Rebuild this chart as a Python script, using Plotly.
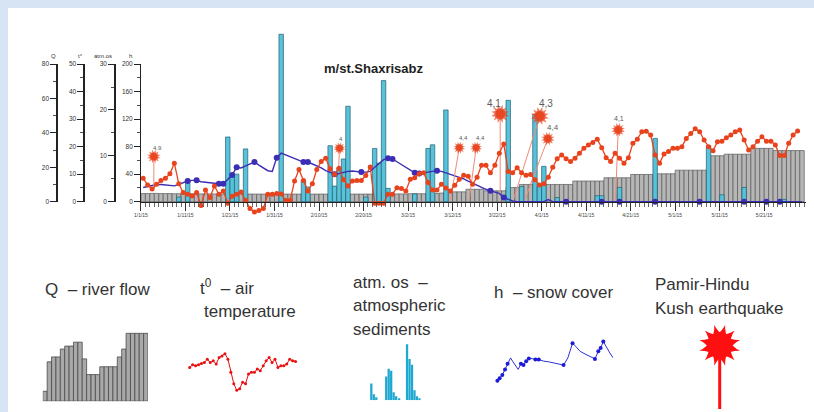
import plotly.graph_objects as go

# The page body keeps its default 8 px margin, so the figure is drawn 8 px in
# from the top-left corner; positions below are given in window pixels.
OFF = 8
W, H = 814 - OFF, 412 - OFF
FONT = "Liberation Sans, Arial, sans-serif"


def fx(px):
    return (px - OFF) / W


def fy(py):
    return 1 - (py - OFF) / H


# ---------------- data (main chart, daily from 1 Jan 2015) ----------------
tick_days = [0, 10, 20, 30, 40, 50, 60, 70, 80, 90, 100, 110, 120, 130, 140]
tick_labels = ["1/1/15", "1/11/15", "1/21/15", "1/31/15", "2/10/15", "2/20/15",
               "3/2/15", "3/12/15", "3/22/15", "4/1/15", "4/11/15", "4/21/15",
               "5/1/15", "5/11/15", "5/21/15"]

river_flow = [
    4.7, 4.7, 4.8, 4.8, 4.7, 4.7, 4.7, 4.6, 4.6, 4.6,
    4.6, 4.6, 4.5, 4.5, 4.5, 4.5, 4.5, 4.5, 4.5, 4.5,
    4.5, 4.5, 4.5, 4.5, 4.4, 4.4, 4.4, 4.4, 4.4, 4.4,
    4.4, 4.4, 4.4, 4.4, 4.4, 4.4, 4.4, 4.4, 4.4, 4.4,
    4.4, 4.4, 4.4, 4.4, 4.4, 4.4, 4.4, 4.4, 4.4, 4.4,
    4.4, 4.4, 4.4, 4.4, 4.5, 4.5, 4.5, 4.5, 4.5, 4.5,
    4.6, 4.6, 4.6, 4.6, 4.8, 4.8, 4.8, 5.0, 5.2, 5.2,
    5.7, 5.7, 5.7, 7.2, 7.2, 7.2, 7.2, 6.3, 6.3, 6.3,
    6.3, 6.3, 8.2, 8.2, 8.2, 10, 10, 10, 10, 10,
    10, 10, 10, 10, 10, 10, 10, 12, 12, 12,
    12, 12, 12, 12, 13.9, 13.9, 13.9, 13.9, 13.9, 13.9,
    15.8, 15.8, 15.8, 15.8, 15.8, 15.8, 16.2, 16.2, 16.2, 16.2,
    18.3, 18.3, 18.3, 18.3, 18.3, 18.3, 18.3, 18.3, 26.7, 26.7,
    26.7, 27.6, 27.6, 27.6, 27.6, 27.6, 27.6, 31, 31, 31,
    31, 31, 29.7, 29.7, 29.7, 29.7, 29.7, 29.7, 29.7,
]

air_temp = [
    8.5, 6.1, 4.6, 6.3, 7.7, 8.5, 10.1, 14, 6.5, 3.3,
    2.7, 2.1, 3.3, -1.4, 4.2, 1.5, 5.7, 2.7, 3.9, -0.6,
    2, 2.7, 3.5, 0.5, -2.5, -3.8, -3.2, -2.5, 2.7, 2.7,
    3, 2.8, 0.4, 0.4, 7.5, 11.7, 7.7, 3.9, 6.5, 11.7,
    14.6, 15.8, 12, 9.9, 12.1, 8, 5.7, 7.5, 7.7, 7.7,
    9.5, 12.6, -0.6, -0.6, -0.6, 2.7, 2.7, 5.1, 4.8, 3.9,
    8.1, 8.7, 10.1, 10.5, 7, 4.2, 4.2, 6.3, 5, 3.9,
    6, 8.1, 9.6, 9.2, 6.3, 8.9, 13.2, 13.2, 10.5, 13.2,
    17.6, 21, 11, 10.5, 12.3, 10.5, 9.6, 9.9, 8, 6.1,
    6.5, 8.9, 12.5, 15.6, 17, 15.6, 14.6, 15.8, 17.6, 19.4,
    20.6, 21.5, 22.7, 19.6, 16, 14.6, 17.6, 15.8, 14, 16,
    21.2, 22.7, 25.4, 25.6, 24.2, 17, 14, 17.3, 18.2, 19.4,
    19.4, 20, 23, 24.8, 26.5, 25.4, 22.4, 20, 18.5, 21.8,
    22, 23.2, 24.2, 25.4, 26, 22.4, 18.8, 20, 22, 23.6,
    22, 22, 20.6, 16.8, 16.8, 21.2, 24.2, 25.7, None,
]

atm_by_day = {
    8: 1, 10: 4.3, 19: 14.1, 20: 5.6, 21: 6, 23: 11.5, 31: 36.5, 36: 4.7, 37: 3.2,
    42: 12.2, 43: 3.4, 44: 7.4, 45: 9.3, 46: 20.8, 50: 1, 52: 11.6, 53: 8.4,
    54: 26.4, 55: 2.9, 61: 1.7, 64: 11.6, 65: 12.4, 68: 20, 82: 22.1, 85: 3.3,
    88: 19, 89: 3.4, 90: 7.7, 93: 0.9, 102: 1.3, 103: 1.3, 107: 3.1, 115: 13.8,
    127: 12.2, 130: 1.5, 135: 3.1, 144: 0.5,
}
atm_sediments = [atm_by_day.get(d) for d in range(len(river_flow))]

snow_cover = [
    20.5, 22, 24, 25, 25, 24, 23, 23, 25, 28,
    30, 31, 31, 29, 28, 27, 26.5, 26, 26, 32,
    38.6, 50, 49, 52, 55, 57.6, 53, 49, 45, 44,
    64, 70.5, 68, 65, 62, 60, 57.6, 57.6, 55, 52,
    49, 45, 42, 40, 41, 43, 44, 44.5, 43.5, 43,
    43, 44, 50, 56, 61, 63, 62, 58, 54, 49,
    45, 42, 41, 41.5, 43, 44, 45, 44, 42, 40,
    38, 36, 33, 30, 27, 23, 20, 18, 15.7, 14,
    12, 6, 3, 1, 0, 0, 0, 0, 0, 0,
    0, 3, 0, 0, 0, 0, 0, 0, 0, 0,
    0, 0, 0, 0, 0, 0, 0, 0, 0, 0,
    0, 0, 0, 0, 0, 0, 0, 0, 0, 0,
    0, 0, 0, 0, 0, 0, 0, 0, 0, 0,
    0, 0, 0, 0, 0, 0, 0, 0, 0, 0,
    0, 0, 0, 0, 0, 0, 0, 0, 0,
]
snow_obs_days = [10, 12, 17, 18, 20, 21, 25, 30, 36, 37, 43, 49, 55, 56, 61, 62,
                 66, 78, 81, 95, 103, 107, 115, 125, 135, 140, 143]

# Pamir-Hindu Kush earthquakes (magnitude label, position in days, level in deg C)
quake_mag = ["4.9", "4", "4,4", "4,4", "4,1", "4,3", "4,4", "4,1"]
quake_day = [2.9, 44.6, 71.5, 75.3, 80.7, 89.6, 91.4, 107.2]
quake_level = [16.4, 19.4, 19.6, 19.6, 31.9, 31.1, 22.9, 26.1]
quake_base_day = [2.9, 44.4, 69.5, 73.7, 80.7, 83.8, 86.3, 106.6]
quake_base_level = [4.6, 12.1, 0.4, 0.4, 3.9, 1.4, 1.1, 0.4]

# ---------------- data (legend glyphs) ----------------
glyph_flow = [10, 40, 45, 45, 53, 56, 56, 60, 60, 43, 27, 27, 27, 35, 35, 35,
              35, 45, 53, 69, 69, 69, 69, 69]
glyph_temp = [33.3, 36, 35, 36, 37.3, 38.3, 41.7, 38.3, 40, 36.7, 43.3, 45, 47.3,
              41.7, 28.3, 16.7, 10, 11.7, 18.3, 16.7, 26.7, 28.3, 28.3, 31.7, 30,
              35, 40, 43.3, 38.3, 41.7, 33.3, 35, 35, 36.7, 41.7, 40, 39.3]
glyph_atm_pos = [2, 4.5, 7, 17, 19.5, 22, 24.5, 27, 30, 38, 40.5, 43, 45.5, 48, 50.5]
glyph_atm = [17, 6, 3, 24, 32, 30, 8, 4, 2, 57, 42, 36, 10, 4, 2]
glyph_snow_t = [0, 2.3, 5, 7.7, 10.3, 13.3, 15.7, 18.3, 21, 23.7, 26.3, 29, 31.7,
                35, 38.3, 41.7, 46.7, 51.7, 58.3, 66.7, 71, 75.7, 79, 83.3, 88.3,
                93.3, 98.3, 101.7, 104, 106.7, 110, 113.3, 116.7]
glyph_snow_h = [6.7, 9.3, 12.7, 18.3, 24, 30, 26, 22.7, 18.3, 24, 22.7, 26.7, 29.3,
                29.3, 28.3, 28.3, 26.7, 26, 24.7, 22.7, 30, 45, 41.7, 36.7, 34,
                31.7, 29, 36.7, 40, 46.7, 40, 35, 30]
glyph_snow_marks = [0, 1, 2, 3, 4, 9, 10, 11, 12, 14, 15, 19, 21, 26, 27, 28, 29]
glyph_quake_level = 0.79

# ---------------- figure ----------------
RED = "#e8431c"
BLUE = "#3b2db4"
CYAN = "#58c2da"
GRAY = "#b6b6b6"

days = [d + 0.5 for d in range(len(river_flow))]

fig = go.Figure()

fig.add_trace(go.Bar(x=days, y=river_flow, width=1, xaxis="x", yaxis="y",
                     marker=dict(color=GRAY, line=dict(color="#5a5a5a", width=0.7)),
                     hoverinfo="skip"))
fig.add_trace(go.Bar(x=days, y=atm_sediments, width=1, xaxis="x", yaxis="y2",
                     marker=dict(color=CYAN, line=dict(color="#24606f", width=0.7)),
                     hoverinfo="skip"))
fig.add_trace(go.Scatter(x=days, y=snow_cover, mode="lines", xaxis="x", yaxis="y3",
                         line=dict(color=BLUE, width=1.4), hoverinfo="skip"))
fig.add_trace(go.Scatter(x=[days[d] for d in snow_obs_days],
                         y=[snow_cover[d] for d in snow_obs_days],
                         mode="markers", xaxis="x", yaxis="y3", cliponaxis=False,
                         marker=dict(color=BLUE, size=6), hoverinfo="skip"))
# earthquake stems
for i in range(len(quake_mag)):
    fig.add_trace(go.Scatter(x=[quake_base_day[i], quake_day[i]],
                             y=[quake_base_level[i], quake_level[i]],
                             mode="lines", xaxis="x", yaxis="y4",
                             line=dict(color="#ef8a78", width=1), hoverinfo="skip"))
fig.add_trace(go.Scatter(x=days, y=air_temp, mode="lines+markers", xaxis="x", yaxis="y4",
                         cliponaxis=False,
                         line=dict(color=RED, width=1.3),
                         marker=dict(color=RED, size=5), hoverinfo="skip"))
quake_size = [9, 8, 8, 8, 12, 12, 9, 9]
for ang in (0, 30, 60):
    fig.add_trace(go.Scatter(x=quake_day, y=quake_level, mode="markers", xaxis="x", yaxis="y4",
                             cliponaxis=False,
                             marker=dict(symbol="star-square", size=quake_size, color=RED,
                                         angle=ang, line=dict(width=0)),
                             hoverinfo="skip"))

# dummy traces so the scale axes get drawn
for ya in ("y5", "y6", "y7", "y8"):
    fig.add_trace(go.Scatter(x=[None], y=[None], xaxis="x", yaxis=ya, hoverinfo="skip"))

# legend glyphs
fig.add_trace(go.Bar(x=list(range(len(glyph_flow))), y=glyph_flow, width=1, xaxis="x2", yaxis="y9",
                     marker=dict(color="#a9a9a9", line=dict(color="#4a4a4a", width=0.8)),
                     hoverinfo="skip"))
fig.add_trace(go.Scatter(x=list(range(len(glyph_temp))), y=glyph_temp, mode="lines+markers",
                         xaxis="x3", yaxis="y10", cliponaxis=False,
                         line=dict(color="#e81010", width=1),
                         marker=dict(color="#e81010", size=3), hoverinfo="skip"))
fig.add_trace(go.Bar(x=glyph_atm_pos, y=glyph_atm, width=2.3, xaxis="x4", yaxis="y11",
                     marker=dict(color="#1fa9d0", line=dict(width=0)), hoverinfo="skip"))
fig.add_trace(go.Scatter(x=glyph_snow_t, y=glyph_snow_h, mode="lines", xaxis="x5", yaxis="y12",
                         cliponaxis=False, line=dict(color="#3030d8", width=1), hoverinfo="skip"))
fig.add_trace(go.Scatter(x=[glyph_snow_t[i] for i in glyph_snow_marks],
                         y=[glyph_snow_h[i] for i in glyph_snow_marks], mode="markers",
                         xaxis="x5", yaxis="y12", cliponaxis=False,
                         marker=dict(color="#1c1cd8", size=4), hoverinfo="skip"))
fig.add_trace(go.Scatter(x=[0, 0], y=[0, glyph_quake_level], mode="lines", xaxis="x6", yaxis="y13",
                         line=dict(color="#ff1010", width=3), hoverinfo="skip"))
for ang in (0, 30, 60):
    fig.add_trace(go.Scatter(x=[0], y=[glyph_quake_level], mode="markers", xaxis="x6", yaxis="y13",
                             cliponaxis=False,
                             marker=dict(symbol="star-square", size=27, color="#ff1010",
                                         angle=ang, line=dict(width=0)),
                             hoverinfo="skip"))


def data_range(px_per_unit):
    return [-(216 - 201) / px_per_unit, (201 - 25) / px_per_unit]


hidden = dict(visible=False, showgrid=False, zeroline=False, fixedrange=True)


def scale_axis(pos, rng, dtick, minor_dtick):
    return dict(domain=[fy(201), fy(61)], range=rng, anchor="free", position=fx(pos),
                side="left", showline=True, linecolor="#222", linewidth=1.4,
                ticks="outside", ticklen=6, tickwidth=1, tickcolor="#222",
                tickmode="linear", tick0=0, dtick=dtick,
                tickfont=dict(size=6.5, color="#333", family=FONT),
                showgrid=False, zeroline=False,
                minor=dict(ticks="outside", ticklen=3, tickwidth=0.8, tickcolor="#222",
                           tick0=0, dtick=minor_dtick))


layout = dict(
    width=W, height=H, autosize=False,
    margin=dict(l=0, r=0, t=0, b=0),
    paper_bgcolor="white", plot_bgcolor="rgba(0,0,0,0)",
    showlegend=False, barmode="overlay",
    font=dict(family=FONT, color="#333"),
    xaxis=dict(domain=[fx(135), fx(806)], range=[-0.2, 149.4], anchor="free", position=fy(201),
               showgrid=False, zeroline=False, showline=True, linecolor="#222", linewidth=1.5,
               ticks="outside", ticklen=8, tickwidth=1, tickcolor="#333",
               tickmode="array", tickvals=tick_days, ticktext=tick_labels,
               tickfont=dict(size=5, color="#444", family=FONT),
               minor=dict(ticks="outside", ticklen=4, tickwidth=0.8, tickcolor="#444",
                          tick0=0, dtick=1)),
    yaxis=dict(domain=[fy(216), fy(25)], range=data_range(140 / 80), anchor="x", **hidden),
    yaxis2=dict(overlaying="y", range=data_range(140 / 30), anchor="x", **hidden),
    yaxis3=dict(overlaying="y", range=data_range(140 / 200), anchor="x", **hidden),
    yaxis4=dict(overlaying="y", range=data_range(140 / 50), anchor="x", **hidden),
    yaxis5=scale_axis(50.7, [0, 80], 20, 10),
    yaxis6=scale_axis(78, [0, 50], 10, 5),
    yaxis7=scale_axis(109, [0, 30], 10, 5),
    yaxis8=scale_axis(135, [0, 200], 40, 20),
    xaxis2=dict(domain=[fx(37), fx(143)], range=[-0.5, 23.5], anchor="y9", **hidden),
    yaxis9=dict(domain=[fy(404), fy(333)], range=[0, 71], anchor="x2", **hidden),
    xaxis3=dict(domain=[fx(185), fx(291.7)], range=[0, 36], anchor="y10", **hidden),
    yaxis10=dict(domain=[fy(403), fy(343)], range=[0, 60], anchor="x3", **hidden),
    xaxis4=dict(domain=[fx(366), fx(422)], range=[0, 56], anchor="y11", **hidden),
    yaxis11=dict(domain=[fy(403), fy(340)], range=[0, 63], anchor="x4", **hidden),
    xaxis5=dict(domain=[fx(495), fx(611.7)], range=[0, 116.7], anchor="y12", **hidden),
    yaxis12=dict(domain=[fy(390), fy(330)], range=[0, 60], anchor="x5", **hidden),
    xaxis6=dict(domain=[fx(700), fx(738)], range=[-1, 1], anchor="y13", **hidden),
    yaxis13=dict(domain=[fy(412), fy(330)], range=[0, 1], anchor="x6", **hidden),
)
fig.update_layout(**layout)

ann = []
# scale titles
for txt, px in (("Q", 48), ("t°", 75), ("atm.os", 98), ("h", 125)):
    ann.append(dict(text=txt, x=fx(px), y=fy(53), xref="paper", yref="paper",
                    xanchor="center", yanchor="middle",
                    showarrow=False, font=dict(size=6, color="#333")))
# title
ann.append(dict(text="<b>m/st.Shaxrisabz</b>", x=fx(370), y=fy(66), xref="paper", yref="paper",
                xanchor="center", yanchor="middle",
                showarrow=False, font=dict(size=13, color="#1e1e1e")))
# quake labels
label_font = [6, 6, 6, 6, 10, 10, 8, 7]
label_dx = [4, 1, 4, 4, -6, 6, 5, 1]
label_dy = [9, 9, 10, 10, 10, 13, 11, 11]
for i, m in enumerate(quake_mag):
    ann.append(dict(text=m, x=quake_day[i], y=quake_level[i], xref="x", yref="y4",
                    xanchor="center", yanchor="middle",
                    xshift=label_dx[i], yshift=label_dy[i], showarrow=False,
                    font=dict(size=label_font[i], color="#5a5a5a")))
# legend texts
NB = "\u00a0"
legend_texts = [
    ("Q" + NB + NB + "– river flow", 37, 290),
    ("t<sup>0</sup>" + NB + NB + "– air", 193, 288),
    ("temperature", 197, 313),
    ("atm." + NB + "os" + NB + NB + "–", 348, 283),
    ("atmospheric", 348, 307),
    ("sediments", 348, 331),
    ("h" + NB + NB + "– snow cover", 490, 293),
    ("Pamir-Hindu", 652, 285),
    ("Kush earthquake", 652, 310),
]
for txt, px, py in legend_texts:
    ann.append(dict(text=txt, x=fx(px), y=fy(py), xref="paper", yref="paper",
                    xanchor="left", yanchor="middle", showarrow=False,
                    font=dict(size=17, color="#333")))
fig.update_layout(annotations=ann)

# the slide's pale blue frame shows only along the top and left page margins
frame_js = (
    "document.body.style.background="
    "'linear-gradient(to right, #d6e4f4 8px, rgba(214,228,244,0) 8px) no-repeat, "
    "linear-gradient(to bottom, #d6e4f4 8px, rgba(214,228,244,0) 8px) no-repeat, #ffffff';"
)
fig.write_html("out.html", config={"displayModeBar": False, "staticPlot": True},
               post_script=frame_js)
